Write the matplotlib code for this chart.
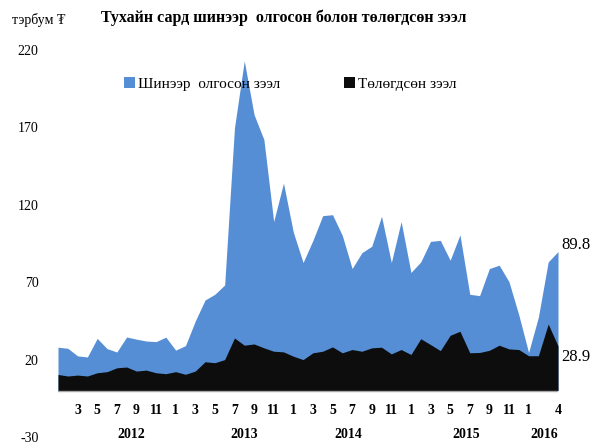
import matplotlib
matplotlib.use("Agg")
import matplotlib.pyplot as plt
import numpy as np

# Monthly data Jan 2012 - Apr 2016
new_loans = [28.0, 27.3, 22.4, 21.7, 33.7, 27.1, 24.9, 34.6, 33.2, 32.0, 31.6, 34.5, 26.1, 29.0,
             44.9, 58.5, 62.2, 68.2, 169.7, 213.0, 178.2, 162.2, 109.2, 134.0, 102.4, 82.7,
             97.0, 113.0, 113.6, 100.2, 78.8, 89.1, 93.2, 112.6, 82.7, 109.2, 76.3, 83.1,
             96.4, 97.0, 84.2, 100.6, 62.2, 61.3, 78.8, 81.0, 70.3, 48.9, 24.6, 47.5, 83.1, 89.8]
repaid = [10.4, 9.4, 10.0, 9.4, 11.5, 12.2, 14.7, 15.2, 12.6, 13.2, 11.5, 10.9, 12.2, 10.5,
          12.6, 18.6, 18.0, 20.0, 34.0, 29.3, 30.1, 27.6, 25.4, 25.0, 22.2, 20.0,
          24.4, 25.4, 28.2, 24.4, 26.5, 25.4, 27.6, 28.0, 23.7, 26.5, 23.3, 33.5,
          29.7, 25.8, 35.7, 38.3, 24.4, 24.6, 26.0, 29.3, 26.9, 26.5, 22.5, 22.5, 43.0, 28.9]

month_tick_idx = list(range(2, 49, 2)) + [51]
month_tick_labels = ["3", "5", "7", "9", "11", "1"] * 4 + ["4"]
years = ["2012", "2013", "2014", "2015", "2016"]
year_pos = [7.5, 19.0, 29.6, 41.6, 49.6]
y_ticks = [-30, 20, 70, 120, 170, 220]

title = "Тухайн сард шинээр  олгосон болон төлөгдсөн зээл"
unit = "тэрбум ₮"
series_names = ["Шинээр  олгосон зээл", "Төлөгдсөн зээл"]

serif = ["Liberation Serif", "DejaVu Serif"]
plt.rcParams["font.family"] = serif

blue = "#558ed5"
black = "#0d0d0d"

fig = plt.figure(figsize=(5.91, 4.45), dpi=100)
ax = fig.add_axes([58 / 591, 1 - 437 / 445, 500 / 591, 387 / 445])

x = np.arange(len(new_loans))
ax.fill_between(x, 0, new_loans, color=blue, linewidth=0, label=series_names[0])
ax.fill_between(x, 0, repaid, color=black, linewidth=0, label=series_names[1])
ax.axhline(0, color="#a6a6a6", lw=1)

ax.set_xlim(0, 51)
ax.set_ylim(-30, 220)
ax.set_yticks(y_ticks)
ax.set_yticklabels([str(v) for v in y_ticks], fontsize=10)
ax.tick_params(axis="y", length=0, pad=14)
ax.set_xticks([])
for s in ax.spines.values():
    s.set_visible(False)

for i, lab in zip(month_tick_idx, month_tick_labels):
    ax.text(i, -12.6, lab, ha="center", va="center", fontsize=10, fontweight="bold")
for p, lab in zip(year_pos, years):
    ax.text(p, -28.7, lab, ha="center", va="center", fontsize=10, fontweight="bold")

ax.text(51.3, new_loans[-1] + 4.5, f"{new_loans[-1]:.1f}", ha="left", va="center", fontsize=12)
ax.text(51.3, repaid[-1] - 7.5, f"{repaid[-1]:.1f}", ha="left", va="center", fontsize=12)

leg = ax.legend(loc="upper left", bbox_to_anchor=(0.12, 0.945), ncol=2, frameon=False,
                fontsize=11, handlelength=0.7, handleheight=0.7, handletextpad=0.2,
                columnspacing=4.2, borderaxespad=0)

fig.text(284 / 591, 1 - 18 / 445, title, ha="center", va="center", fontsize=11.5, fontweight="bold")
fig.text(12 / 591, 1 - 20 / 445, unit, ha="left", va="center", fontsize=10)

fig.savefig("out.png", dpi=100)
